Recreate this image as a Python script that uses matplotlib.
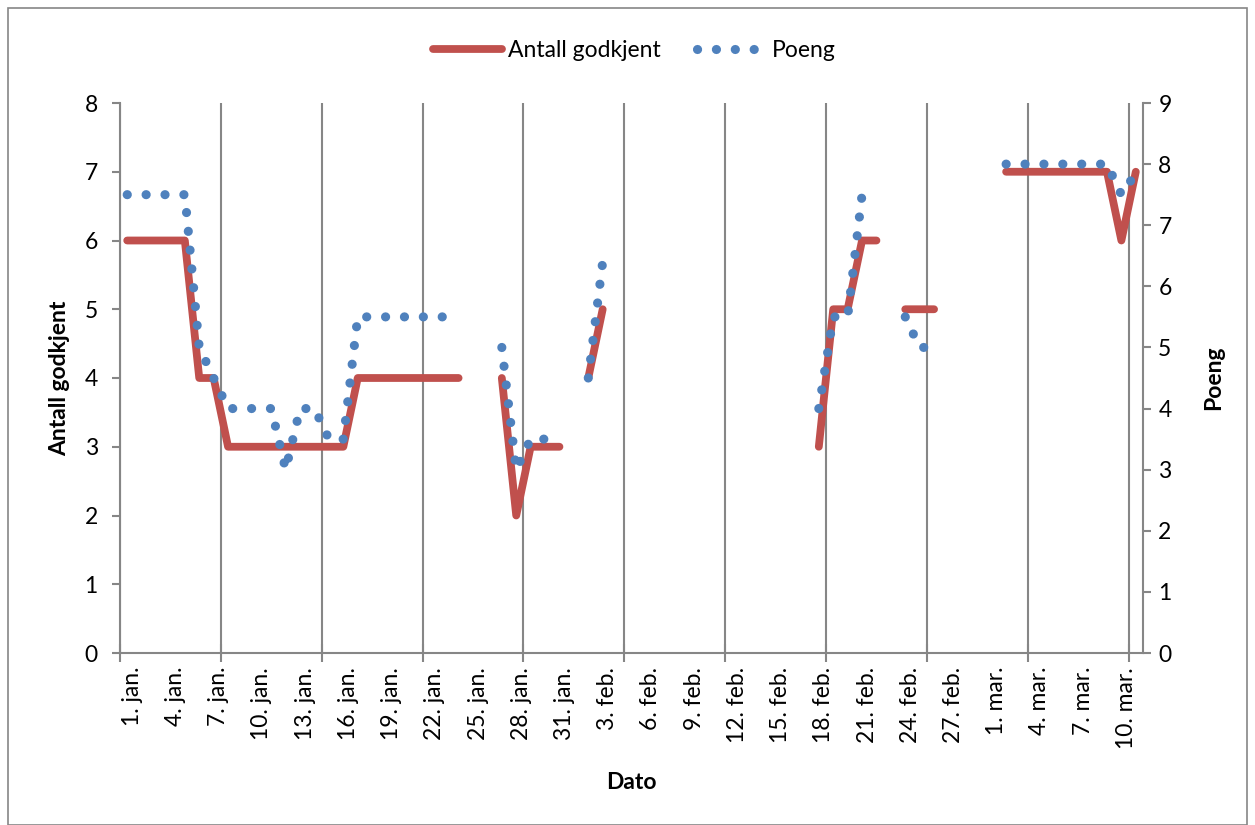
import matplotlib
matplotlib.use("Agg")
import matplotlib.pyplot as plt
import matplotlib.dates as mdates
import matplotlib.transforms as mtransforms
from matplotlib.patches import Rectangle
import numpy as np
import pandas as pd

plt.rcParams["font.family"] = ["Lato", "DejaVu Sans"]

# one entry per day, 1. jan. - 11. mar. 2012 (None = no registration)
dager = pd.date_range("2012-01-01", "2012-03-11", freq="D")
antall_godkjent = [
    6, 6, 6, 6, 6, 4, 4, 3, 3, 3,
    3, 3, 3, 3, 3, 3, 4, 4, 4, 4,
    4, 4, 4, 4, None, None, 4, 2, 3, 3,
    3, None, 4, 5, None, None, None, None, None, None,
    None, None, None, None, None, None, None, None, 3, 5,
    5, 6, 6, None, 5, 5, 5, None, None, None,
    None, 7, 7, 7, 7, 7, 7, 7, 7, 6,
    7,
]
poeng = [
    7.5, 7.5, 7.5, 7.5, 7.5, 5.0, 4.5, 4.0, 4.0, 4.0,
    4.0, 3.0, 4.0, 4.0, 3.5, 3.5, 5.5, 5.5, 5.5, 5.5,
    5.5, 5.5, 5.5, 5.5, None, None, 5.0, 3.0, 3.5, 3.5,
    3.5, None, 4.5, 6.4, None, None, None, None, None, None,
    None, None, None, None, None, None, None, None, 4.0, 5.5,
    5.5, 7.5, None, None, 5.5, 5.0, 5.0, None, None, None,
    None, 8.0, 8.0, 8.0, 8.0, 8.0, 8.0, 8.0, 8.0, 7.5,
    7.85,
]
maaneder = ["jan", "feb", "mar"]

rod = "#C0504D"
bla = "#4F81BD"
gra = "#868686"
fs = 16.5

x = mdates.date2num(dager)
y1 = np.array([np.nan if v is None else v for v in antall_godkjent], dtype=float)
y2 = np.array([np.nan if v is None else v for v in poeng], dtype=float)

fig = plt.figure(figsize=(12.55, 8.25), dpi=100)
fig.patches.append(Rectangle((8 / 1255, 0), 1 - 16 / 1255, 1 - 8 / 825,
                             transform=fig.transFigure, fill=False,
                             edgecolor=gra, linewidth=1.2))

ax = fig.add_axes([120 / 1255, 1 - 653 / 825, 1023 / 1255, 550 / 825])
ax2 = ax.twinx()

l1, = ax.plot(x, y1, color=rod, linewidth=5.6, solid_capstyle="round",
              solid_joinstyle="round", label="Antall godkjent")
# round-dot line, about 19 px between dot centres
l2, = ax2.plot(x, y2, color=bla, linewidth=6.6, linestyle=(0, (0.01, 2.05)),
               dash_capstyle="round", label="Poeng")

# x-axis: one slot per day, weekly gridlines on slot borders
ax.set_xlim(x[0] - 0.5, x[-1] + 0.5)
ax.set_xticks(x[::3])
ax.set_xticklabels([f"{d.day}. {maaneder[d.month - 1]}." for d in dager[::3]],
                   rotation=90, fontsize=fs)
ax.set_xticks(np.arange(x[0] - 0.5, x[-1] + 0.5, 7), minor=True)
ax.tick_params(axis="x", which="major", length=0, pad=10)
ax.tick_params(axis="x", which="minor", direction="inout", length=13,
               width=1.5, color=gra)
ax.grid(axis="x", which="minor", color=gra, linewidth=1.5)
ax.set_axisbelow(True)
shift = mtransforms.ScaledTranslation(5 / 100, 0, fig.dpi_scale_trans)
for lab in ax.get_xticklabels():
    lab.set_transform(lab.get_transform() + shift)

ax.set_ylim(0, 8)
ax.set_yticks(range(0, 9))
ax.tick_params(axis="y", direction="out", length=6, width=1.5, color=gra,
               labelsize=fs, pad=10)
ax2.set_ylim(0, 9)
ax2.set_yticks(range(0, 10))
ax2.tick_params(axis="y", direction="out", length=6, width=1.5, color=gra,
                labelsize=fs, pad=5)

for a in (ax, ax2):
    a.spines["top"].set_visible(False)
    for side in ("left", "right", "bottom"):
        a.spines[side].set_color(gra)
        a.spines[side].set_linewidth(1.5)
ax.spines["right"].set_visible(False)
ax2.spines["left"].set_visible(False)
ax2.spines["bottom"].set_visible(False)

ax.set_ylabel("Antall godkjent", fontsize=fs, fontweight="bold")
ax.yaxis.set_label_coords(-0.049, 0.5)
ax2.set_ylabel("Poeng", fontsize=fs, fontweight="bold")
ax2.yaxis.set_label_coords(1.0587, 0.5)
ax.set_xlabel("Dato", fontsize=fs, fontweight="bold")
ax.xaxis.set_label_coords(0.5, -0.216)

fig.legend(handles=[l1, l2], loc="center", bbox_to_anchor=(0.5056, 0.939),
           ncol=2, frameon=False, fontsize=fs, handlelength=3.0,
           handletextpad=0.25, columnspacing=1.6)

fig.savefig("out.png", dpi=100)
